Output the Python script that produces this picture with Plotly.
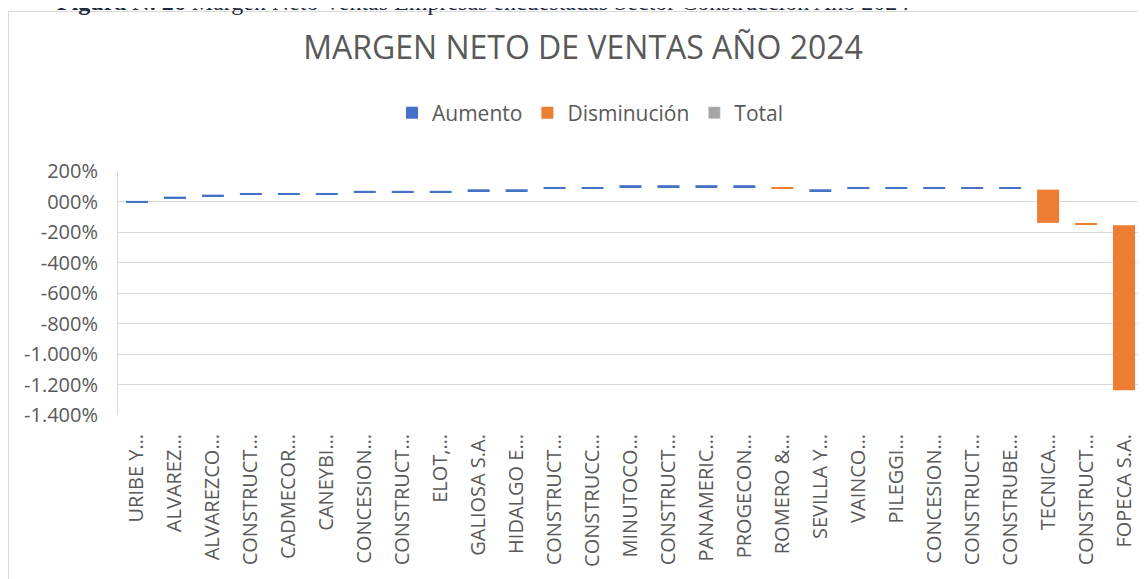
import numpy as np
import plotly.graph_objects as go

# ---- data ----
empresas = ["URIBE Y…", "ALVAREZ…", "ALVAREZCO…", "CONSTRUCT…", "CADMECOR…", "CANEYBI…",
            "CONCESION…", "CONSTRUCT…", "ELOT,…", "GALIOSA S.A.", "HIDALGO E…", "CONSTRUCT…",
            "CONSTRUCC…", "MINUTOCO…", "CONSTRUCT…", "PANAMERIC…", "PROGECON…", "ROMERO &…",
            "SEVILLA Y…", "VAINCO…", "PILEGGI…", "CONCESION…", "CONSTRUCT…", "CONSTRUBE…",
            "TECNICA…", "CONSTRUCT…", "FOPECA S.A."]
# start and end level of each floating bar (in %)
inicio = [-8, 20, 33, 44, 44, 44, 58, 58, 58, 68, 68, 82, 82, 95, 95, 95, 95, 94, 68,
          82, 82, 82, 82, 82, 78, -143, -155]
fin = [4, 32, 45, 56, 56, 56, 70, 70, 70, 80, 80, 94, 94, 107, 107, 107, 107, 82, 80,
       94, 94, 94, 94, 94, -140, -149, -1237]

y_ticks = [200, 0, -200, -400, -600, -800, -1000, -1200, -1400]
y_ticktext = ["200%", "000%", "-200%", "-400%", "-600%", "-800%", "-1.000%", "-1.200%", "-1.400%"]

titulo = "MARGEN NETO DE VENTAS AÑO 2024"
caption = "<b>Figura N. 26</b> Margen Neto Ventas Empresas encuestadas Sector Construcción Año 2024"

# ---- figure ----
idx = np.arange(len(empresas))
ini = np.array(inicio, dtype=float)
fi = np.array(fin, dtype=float)
up = fi > ini
down = ~up

BLUE, ORANGE, GRAY = "#4472C4", "#ED7D31", "#A5A5A5"
FONT = "Open Sans"
TXT = "#595959"

fig = go.Figure()
fig.add_trace(go.Bar(name="Aumento", x=idx[up], base=ini[up], y=(fi - ini)[up],
                     marker=dict(color=BLUE, line=dict(width=0)), width=0.58))
fig.add_trace(go.Bar(name="Disminución", x=idx[down], base=ini[down], y=(fi - ini)[down],
                     marker=dict(color=ORANGE, line=dict(width=0)), width=0.58))
fig.add_trace(go.Bar(name="Total", x=[None], y=[None], marker=dict(color=GRAY)))

OFF = 8  # page body margin offset
W, H = 1146, 579
L, T = 118 - OFF, 171 - OFF
pw, ph = 1025, 244
R = W - L - pw
B = H - T - ph

def px_x(p):  # screen pixel -> paper x
    return (p - OFF - L) / pw

def px_y(p):  # screen pixel -> paper y
    return (T + ph - (p - OFF)) / ph

fig.update_layout(
    width=W, height=H,
    margin=dict(l=L, r=R, t=T, b=B, autoexpand=False),
    paper_bgcolor="white", plot_bgcolor="white",
    barmode="overlay",
    font=dict(family=FONT, color=TXT),
    title=dict(text=titulo, x=(583 - OFF) / W, xanchor="center", y=1 - (48 - OFF) / H,
               yanchor="middle", font=dict(size=32, color=TXT, family=FONT)),
    legend=dict(orientation="h", x=px_x(590), xanchor="center", y=px_y(113), yanchor="middle",
                font=dict(size=21, color=TXT), traceorder="normal", itemwidth=30),
    showlegend=True,
    xaxis=dict(range=[-0.5, len(empresas) - 0.5], tickmode="array", tickvals=idx,
               ticktext=empresas, tickangle=-90, showgrid=False, zeroline=False,
               showline=False, ticks="", ticklabelstandoff=14, automargin=False,
               tickfont=dict(size=20, color=TXT, family=FONT)),
    yaxis=dict(range=[-1400, 200], tickmode="array", tickvals=y_ticks, ticktext=y_ticktext,
               showgrid=True, gridcolor="#D9D9D9", gridwidth=1, zeroline=False,
               showline=True, linecolor="#D9D9D9", ticks="", ticklabelstandoff=15,
               automargin=False, tickfont=dict(size=20, color=TXT, family=FONT)),
    shapes=[dict(type="rect", xref="paper", yref="paper", x0=px_x(8.5), x1=px_x(W + 40),
                 y0=px_y(H + 40), y1=px_y(11.5), line=dict(color="#D9D9D9", width=1),
                 fillcolor="rgba(0,0,0,0)", layer="below")],
    annotations=[dict(text=caption, xref="paper", yref="paper", x=px_x(55), xanchor="left",
                      y=px_y(17), yanchor="bottom", showarrow=False,
                      font=dict(family="Liberation Serif", size=24, color="#1F2A3A"))],
)

fig.write_html("out.html")
